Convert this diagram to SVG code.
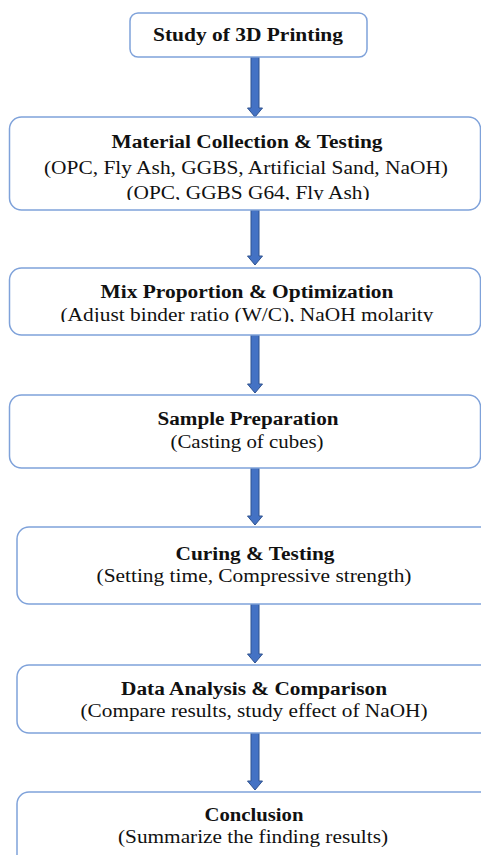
<svg xmlns="http://www.w3.org/2000/svg" width="481" height="855" viewBox="0 0 481 855">
<defs>
<style>
.box{fill:#ffffff;stroke:#7FA2DA;stroke-width:1.5}
.arr{fill:#4472C4;stroke:#2F528F;stroke-width:1}
.t{font-family:"Liberation Serif","Times New Roman",serif;font-size:18.5px;fill:#111111;text-anchor:middle}
.b{font-weight:bold}
</style>
<clipPath id="c2"><rect x="0" y="110" width="481" height="90"/></clipPath>
<clipPath id="c3"><rect x="0" y="260" width="481" height="62"/></clipPath>
</defs>
<rect width="481" height="855" fill="#ffffff"/>
<g id="connectors">
<path class="arr" d="M251,57 H259 V108 H262.5 L255,117 L247.5,108 H251 Z"/>
<path class="arr" d="M251,210 H259 V256 H262.5 L255,265 L247.5,256 H251 Z"/>
<path class="arr" d="M251,335 H259 V384 H262.5 L255,393 L247.5,384 H251 Z"/>
<path class="arr" d="M251,468 H259 V516 H262.5 L255,525 L247.5,516 H251 Z"/>
<path class="arr" d="M251,604 H259 V654 H262.5 L255,663 L247.5,654 H251 Z"/>
<path class="arr" d="M251,733 H259 V781 H262.5 L255,790 L247.5,781 H251 Z"/>
</g>
<g id="n1">
<rect class="box" x="130" y="13" width="237" height="44" rx="8"/>
<text class="t b" x="248" y="41" textLength="190" lengthAdjust="spacingAndGlyphs">Study of 3D Printing</text>
</g>
<g id="n2">
<rect class="box" x="9.5" y="117" width="471" height="93" rx="12"/>
<text class="t b" x="247" y="148" textLength="271" lengthAdjust="spacingAndGlyphs">Material Collection &amp; Testing</text>
<text class="t" x="246" y="174" textLength="404" lengthAdjust="spacingAndGlyphs">(OPC, Fly Ash, GGBS, Artificial Sand, NaOH)</text>
<g clip-path="url(#c2)"><text class="t" x="248" y="198.5" textLength="243" lengthAdjust="spacingAndGlyphs">(OPC, GGBS G64, Fly Ash)</text></g>
</g>
<g id="n3">
<rect class="box" x="9.5" y="268" width="471" height="67" rx="12"/>
<text class="t b" x="247" y="298" textLength="293" lengthAdjust="spacingAndGlyphs">Mix Proportion &amp; Optimization</text>
<g clip-path="url(#c3)"><text class="t" x="247" y="321" textLength="373" lengthAdjust="spacingAndGlyphs">(Adjust binder ratio (W/C), NaOH molarity</text></g>
</g>
<g id="n4">
<rect class="box" x="9.5" y="395" width="471" height="73" rx="12"/>
<text class="t b" x="248" y="425" textLength="181" lengthAdjust="spacingAndGlyphs">Sample Preparation</text>
<text class="t" x="247" y="448" textLength="153" lengthAdjust="spacingAndGlyphs">(Casting of cubes)</text>
</g>
<g id="n5">
<rect class="box" x="17" y="527" width="480" height="77" rx="12"/>
<text class="t b" x="255" y="560" textLength="159" lengthAdjust="spacingAndGlyphs">Curing &amp; Testing</text>
<text class="t" x="254" y="582" textLength="315" lengthAdjust="spacingAndGlyphs">(Setting time, Compressive strength)</text>
</g>
<g id="n6">
<rect class="box" x="17" y="665" width="480" height="68" rx="12"/>
<text class="t b" x="254" y="694.5" textLength="266" lengthAdjust="spacingAndGlyphs">Data Analysis &amp; Comparison</text>
<text class="t" x="254" y="717" textLength="347" lengthAdjust="spacingAndGlyphs">(Compare results, study effect of NaOH)</text>
</g>
<g id="n7">
<rect class="box" x="17" y="792" width="480" height="90" rx="12"/>
<text class="t b" x="254" y="821" textLength="99" lengthAdjust="spacingAndGlyphs">Conclusion</text>
<text class="t" x="253" y="843" textLength="270" lengthAdjust="spacingAndGlyphs">(Summarize the finding results)</text>
</g>
</svg>
